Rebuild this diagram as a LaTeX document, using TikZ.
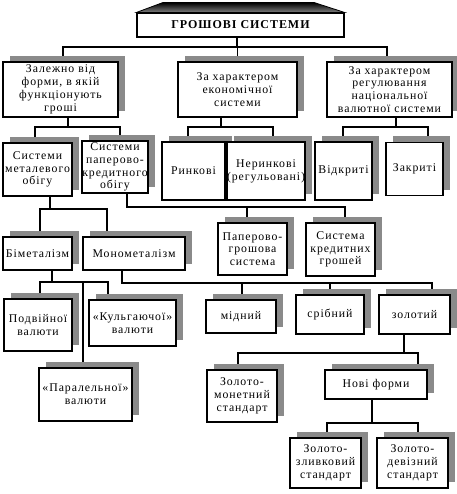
\documentclass[tikz,border=0pt]{standalone}
\usepackage{fontspec}
\setmainfont{Liberation Serif}[LetterSpace=8]
\usetikzlibrary{shadows,backgrounds}
\definecolor{shgray}{HTML}{8A8A8A}
\tikzset{
  box/.style={draw=black, line width=1.1pt, fill=white, align=center, inner sep=0pt,
    font=\fontsize{11.8}{12.8}\selectfont,
    drop shadow={shadow xshift=6.5pt, shadow yshift=6pt, fill=shgray, opacity=1}},
  titlebox/.style={draw=black, line width=1.1pt, fill=white, align=center, inner sep=0pt,
    font=\fontsize{12}{13}\selectfont\bfseries},
  conn/.style={line width=1.1pt, draw=black}
}
\newcommand\lnk[5]{\draw[conn] ([xshift=#2pt]#1.south) |- ([xshift=#5pt]#4.north |- 0,#3) -- ([xshift=#5pt]#4.north);}
\begin{document}
\begin{tikzpicture}[x=1pt,y=-1pt]
\useasboundingbox (0,0) rectangle (456,494);
% title
\node[titlebox, minimum width=207pt, minimum height=24pt] (root) at (240.5,25) {ГРОШОВІ СИСТЕМИ};
\shade[top color=black, bottom color=black!50, draw=black, line width=0.8pt]
  (root.north west) -- (163,2.5) -- (314,2.5) -- (root.north east) -- cycle;
% level 1
\node[box, minimum width=115pt, minimum height=55pt] (A) at (60.5,89.5) {Залежно від\\форми, в якій\\функціонують\\гроші};
\node[box, minimum width=119pt, minimum height=55pt] (B) at (237.5,89.5) {За характером\\економічної\\системи};
\node[box, minimum width=125pt, minimum height=55pt] (C) at (389.5,89.5) {За характером\\регулювання\\національної\\валютної системи};
% level 2
\node[box, minimum width=69pt, minimum height=53pt] (Met) at (37.5,169.5) {Системи\\металевого\\обігу};
\node[box, minimum width=66pt, minimum height=52pt] (Pap) at (115,167) {Системи\\паперово-\\кредитного\\обігу};
\node[box, minimum width=63pt, minimum height=58pt] (Rynk) at (193.5,171) {Ринкові};
\node[box, minimum width=78pt, minimum height=58pt] (Neryn) at (266,171) {Неринкові\\(регульовані)};
\node[box, minimum width=57pt, minimum height=58pt] (Vidk) at (343.5,171) {Відкриті};
\node[box, minimum width=57pt, minimum height=53pt] (Zakr) at (414.5,169) {Закриті};
% level 3
\node[box, minimum width=69pt, minimum height=33pt] (Bim) at (37.5,253.5) {Біметалізм};
\node[box, minimum width=102pt, minimum height=33pt] (Mono) at (134,253.5) {Монометалізм};
\node[box, minimum width=69pt, minimum height=52pt] (PapGr) at (252.5,249) {Паперово-\\грошова\\система};
\node[box, minimum width=69pt, minimum height=53pt] (SysKr) at (340.5,249.5) {Система\\кредитних\\грошей};
% level 4
\node[box, minimum width=68pt, minimum height=52pt] (Podv) at (38,325) {Подвійної\\валюти};
\node[box, minimum width=87pt, minimum height=46pt] (Kulh) at (132.5,323) {«Кульгаючої»\\валюти};
\node[box, minimum width=93pt, minimum height=53pt] (Paral) at (85.5,394.5) {«Паралельної»\\валюти};
\node[box, minimum width=70pt, minimum height=33pt] (Midn) at (241,316.5) {мідний};
\node[box, minimum width=68pt, minimum height=39pt] (Sribn) at (330,314.5) {срібний};
\node[box, minimum width=71pt, minimum height=39pt] (Zolot) at (414.5,314.5) {золотий};
% level 5
\node[box, minimum width=70pt, minimum height=52pt] (ZM) at (242,396) {Золото-\\монетний\\стандарт};
\node[box, minimum width=102pt, minimum height=29pt] (Novi) at (376,384.5) {Нові форми};
\node[box, minimum width=71pt, minimum height=50pt] (ZZ) at (325.5,463) {Золото-\\зливковий\\стандарт};
\node[box, minimum width=71pt, minimum height=50pt] (ZD) at (412.5,463) {Золото-\\девізний\\стандарт};
% connectors
\begin{scope}[on background layer]
\lnk{root}{-3.5}{47}{A}{2.5}
\lnk{root}{-3.5}{47}{B}{0}
\lnk{root}{-3.5}{47}{C}{-2.5}
\lnk{A}{7.5}{127}{Met}{-2.5}
\lnk{A}{7.5}{127}{Pap}{5}
\lnk{B}{-16.5}{127}{Rynk}{-5.5}
\lnk{B}{-16.5}{127}{Neryn}{7}
\lnk{C}{6.5}{127}{Vidk}{-0.5}
\lnk{C}{6.5}{127}{Zakr}{13.5}
\lnk{Met}{12.5}{209}{Bim}{2.5}
\lnk{Met}{12.5}{209}{Mono}{-27}
\lnk{Pap}{12}{207}{PapGr}{-5.5}
\lnk{Pap}{12}{207}{SysKr}{4.5}
\lnk{Bim}{14.5}{282}{Podv}{2}
\lnk{Bim}{14.5}{282}{Kulh}{-24.5}
\lnk{Bim}{14.5}{282}{Paral}{-2.5}
\lnk{Mono}{-12}{283}{Midn}{1}
\lnk{Mono}{-12}{283}{Sribn}{0}
\lnk{Mono}{-12}{283}{Zolot}{17.5}
\lnk{Zolot}{-10.5}{353}{ZM}{-4}
\lnk{Zolot}{-10.5}{353}{Novi}{42}
\lnk{Novi}{-4}{423}{ZZ}{1.5}
\lnk{Novi}{-4}{423}{ZD}{5.5}
\end{scope}
\end{tikzpicture}
\end{document}
